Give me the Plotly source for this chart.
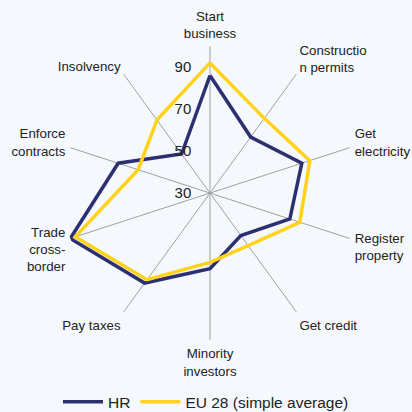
import plotly.graph_objects as go

categories = ["Start<br>business", "Constructio<br>n permits", "Get<br>electricity",
              "Register<br>property", "Get credit", "Minority<br>investors",
              "Pay taxes", "Trade<br>cross-<br>border", "Enforce<br>contracts", "Insolvency"]
hr_values = [86, 63, 76, 70, 55, 66, 83, 100, 76, 53]
eu_values = [92, 74, 80, 75, 61, 63, 81, 97.5, 66, 73]
radial_ticks = [30, 50, 70, 90]

NAVY = "#2c3070"
YELLOW = "#ffd31c"
BG = "#f5f9fd"

fig = go.Figure()
fig.add_trace(go.Scatterpolar(
    r=hr_values + hr_values[:1], theta=categories + categories[:1],
    mode="lines", name="HR", line=dict(color=NAVY, width=3.5)))
fig.add_trace(go.Scatterpolar(
    r=eu_values + eu_values[:1], theta=categories + categories[:1],
    mode="lines", name="EU 28 (simple average)", line=dict(color=YELLOW, width=3.5)))

fig.update_layout(
    width=412, height=412,
    margin=dict(l=0, r=0, t=0, b=0, autoexpand=False),
    paper_bgcolor=BG, plot_bgcolor=BG,
    font=dict(family="Liberation Sans, Arial", size=13, color="#222222"),
    polar=dict(
        bgcolor=BG,
        domain=dict(x=[0.1529, 0.8665], y=[0.1748, 0.888]),
        radialaxis=dict(range=[30, 100], tickvals=radial_ticks, showgrid=False,
                        showline=False, ticks="outside", ticklen=13,
                        tickcolor="rgba(0,0,0,0)", angle=90, tickangle=90,
                        side="counterclockwise",
                        tickfont=dict(size=15, color="#222222")),
        angularaxis=dict(rotation=90, direction="clockwise", showline=False,
                         gridcolor="#a0a0a0", gridwidth=1,
                         ticks="outside", ticklen=2, tickcolor="rgba(0,0,0,0)",
                         tickfont=dict(size=13.3, color="#222222")),
    ),
    legend=dict(orientation="h", x=0.5, xanchor="center", y=0.024, yanchor="middle",
                itemwidth=40,
                font=dict(size=15.5, color="#222222"), bgcolor="rgba(0,0,0,0)"),
)

fig.write_html("out.html",
               config={"displayModeBar": False},
               post_script="document.body.style.margin='0';"
                           "document.body.style.background='%s';" % BG)
